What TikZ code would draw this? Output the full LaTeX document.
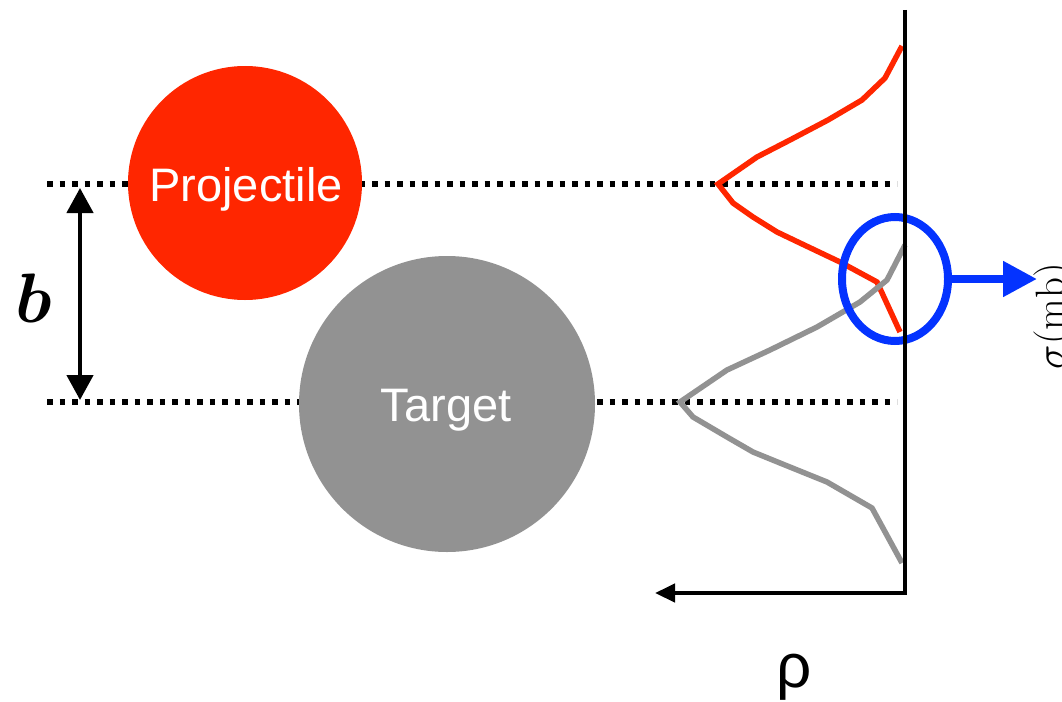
\documentclass[tikz,border=0pt]{standalone}
\usepackage{fix-cm}
\usepackage{amsmath,bm}
\usepackage{fontspec}
\newfontfamily\labfont{Liberation Sans}
\usetikzlibrary{arrows.meta,shapes.geometric}
\definecolor{pred}{HTML}{FF2600}
\definecolor{tgray}{HTML}{929292}
\definecolor{pblue}{HTML}{0433FF}
\tikzset{
  dotline/.style={line width=5.5pt, dash pattern=on 5.5pt off 7pt},
  ball/.style={circle, inner sep=0pt, text=white},
  curve/.style={line width=5.5pt, line join=miter},
  axisline/.style={line width=4.5pt},
}
\begin{document}
\begin{tikzpicture}[x=1pt,y=-1pt]
\useasboundingbox (0,0) rectangle (1062,701);
% dotted reference lines
\coordinate (pl) at (47,184);
\coordinate (pr) at (897,184);
\coordinate (tl) at (47,402);
\coordinate (tr) at (897,402);
\draw[dotline] (pl) -- (pr);
\draw[dotline] (tl) -- (tr);
% balls
\fill[pred] (245,183) circle (117);
\node[ball, anchor=base] (proj) at (246,201) {\labfont\fontsize{47}{50}\selectfont Projectile};
\fill[tgray] (447,404) circle (148);
\node[ball, anchor=base] (targ) at (446,421.5) {\labfont\fontsize{47}{50}\selectfont Target};
% b arrow
\coordinate (bt) at (80,188);
\coordinate (bb) at (80,400);
\draw[axisline, {Triangle[length=25pt,width=26pt]}-{Triangle[length=25pt,width=26pt]}] (bt) -- (bb);
\node[anchor=center] (blab) at (34,298) {\fontsize{70}{74}\selectfont$\boldsymbol{b}$};
% density curves
\draw[pred, curve] (902,46) -- (885,78) -- (862,100) -- (828,120) -- (790,140) -- (757,157) -- (718,184) -- (733,203) -- (753,217) -- (777,232) -- (800,243) -- (840,262) -- (877,282) -- (900,332);
\draw[tgray, curve] (905,245) -- (887,280) -- (860,302) -- (817,327) -- (770,350) -- (727,370) -- (680,402) -- (693,417) -- (727,437) -- (753,452) -- (780,463) -- (827,482) -- (872,508) -- (902,563);
% blue ellipse and arrow
\node[draw=pblue, line width=8pt, ellipse, minimum width=106pt, minimum height=124pt, inner sep=0pt, outer sep=0pt] (ell) at (895,279) {};
\coordinate (sig) at (1037,279);
\draw[pblue, line width=8pt, -{Triangle[length=34pt,width=34pt]}] (ell.east) -- (sig);
% axes
\coordinate (atop) at (905,10);
\coordinate (acorner) at (905,593);
\coordinate (aend) at (655,593);
\draw[axisline, line join=miter, -{Triangle[length=20pt,width=18pt]}] (atop) -- (acorner) -- (aend);
\node[anchor=base] (rho) at (794,687) {\labfont\fontsize{62}{66}\selectfont ρ};
\node[rotate=90, anchor=base east, inner sep=0pt] (sigma) at (1064,263) {\fontsize{41}{45}\selectfont$\sigma(\mathrm{mb})$};
\end{tikzpicture}
\end{document}
